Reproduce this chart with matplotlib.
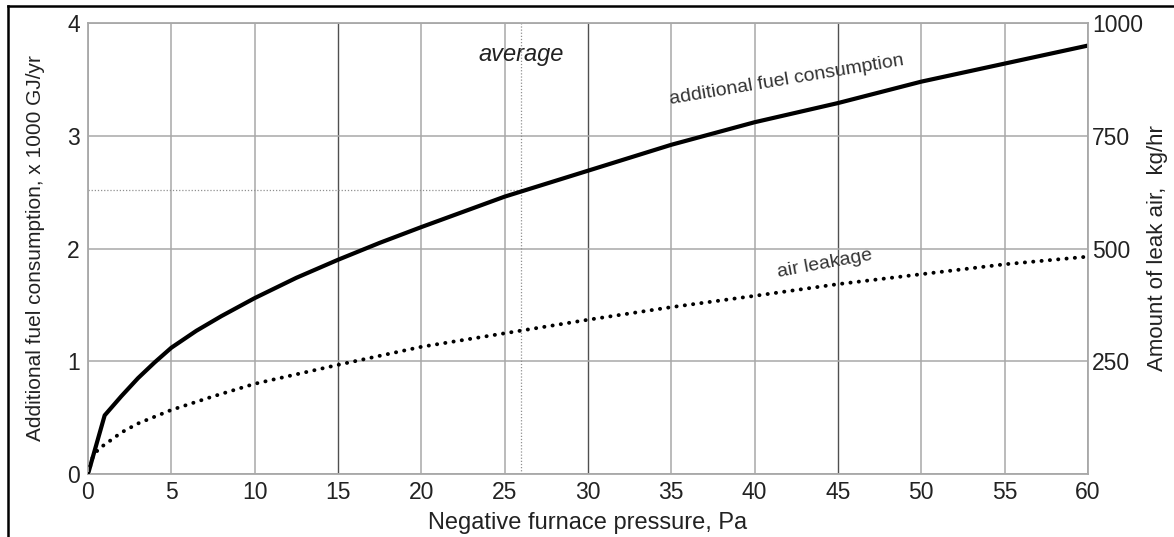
import numpy as np
import matplotlib
matplotlib.use("Agg")
import matplotlib.pyplot as plt
from matplotlib.lines import Line2D

plt.rcParams['font.family'] = ['Liberation Sans', 'DejaVu Sans']

# values
pressure = [0, 1, 2, 3, 4, 5, 6.5, 8, 10, 12.5, 15, 17.5, 20, 25, 30, 35, 40, 45, 50, 55, 60]
fuel = [0, 0.52, 0.69, 0.85, 0.99, 1.12, 1.27, 1.40, 1.56, 1.74, 1.90, 2.05, 2.19,
        2.46, 2.69, 2.92, 3.12, 3.29, 3.48, 3.64, 3.80]
leak_pressure = [0, 0.3, 0.7, 1, 2, 3, 5, 7.5, 10, 15, 20, 25, 30, 35, 40, 45, 50, 55, 60]
leak_air = [0, 40, 58, 65, 92, 112, 142, 172, 200, 242, 282, 312, 342, 370,
            395, 421, 443, 465, 482]
avg_pressure = 26
avg_fuel = 2.52

x_ticks = list(range(0, 61, 5))
y_ticks = [0, 1, 2, 3, 4]
y2_ticks = [250, 500, 750, 1000]
dark_lines = [15, 30, 45]

txt = '#222222'
grid_c = '#a8a8a8'

fig = plt.figure(figsize=(11.74, 5.37), dpi=100)
ax = fig.add_axes([88 / 1174, 1 - 474 / 537, 1000 / 1174, 451 / 537])

ax.set_xlim(0, 60)
ax.set_ylim(0, 4)
ax.set_xticks(x_ticks)
ax.set_yticks(y_ticks)
ax.grid(True, color=grid_c, linewidth=1.1)
ax.set_axisbelow(True)
for xv, gl in zip(x_ticks, ax.xaxis.get_gridlines()):
    if xv in dark_lines:
        gl.set_color('#505050')
        gl.set_linewidth(1.0)
for sp in ax.spines.values():
    sp.set_color(grid_c)
    sp.set_linewidth(1.3)
ax.tick_params(length=0, labelsize=16.5, colors=txt, pad=5)
ax.tick_params(axis='y', pad=6)

# average markers
ax.axvline(avg_pressure, color='#909090', linewidth=0.9, linestyle=(0, (1, 1.5)))
ax.plot([0, avg_pressure], [avg_fuel, avg_fuel], color='#909090', linewidth=0.9,
        linestyle=(0, (1, 1.5)))

ax.plot(pressure, fuel, color='black', linewidth=3.0, solid_joinstyle='round')

ax.set_xlabel('Negative furnace pressure, Pa', fontsize=17, color=txt, labelpad=6)
ax.set_ylabel('Additional fuel consumption, x 1000 GJ/yr', fontsize=15, color=txt,
              labelpad=16)

ax2 = ax.twinx()
ax2.set_ylim(0, 1000)
ax2.set_yticks(y2_ticks)
ax2.tick_params(length=0, labelsize=16.5, colors=txt, pad=3)
for sp in ax2.spines.values():
    sp.set_visible(False)
ax2.plot(leak_pressure, leak_air, color='black', linewidth=2.8,
         linestyle=(0, (0.05, 2.1)), dash_capstyle='round')
ax2.set_ylabel('Amount of leak air,  kg/hr', fontsize=16, color=txt, labelpad=3)

ax.text(avg_pressure, 3.72, 'average', style='italic', fontsize=17, color=txt,
        ha='center', va='center')
ax.text(41.9, 3.49, 'additional fuel consumption', fontsize=14, color='#333333',
        ha='center', va='center', rotation=9.5)
ax.text(44.2, 1.86, 'air leakage', fontsize=14, color='#333333',
        ha='center', va='center', rotation=10.5)

# frame lines at the top and left of the picture
fig.add_artist(Line2D([8 / 1174, 1], [1 - 6 / 537, 1 - 6 / 537], color='black', linewidth=1.8))
fig.add_artist(Line2D([8 / 1174, 8 / 1174], [0, 1 - 6 / 537], color='black', linewidth=1.8))

fig.savefig('out.png', dpi=100)
